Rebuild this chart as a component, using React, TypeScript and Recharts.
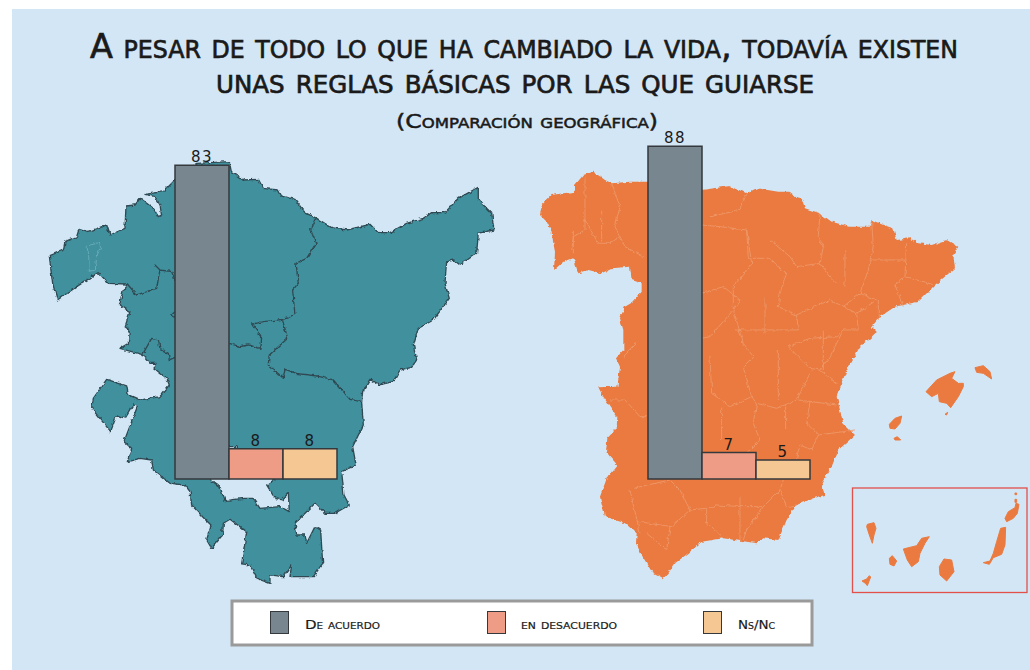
import { BarChart, Bar, Cell, LabelList, XAxis, YAxis } from 'recharts';

const categories = ['De acuerdo', 'en desacuerdo', 'Ns/Nc'];
const euskadiValues = [83, 8, 8];
const espanaValues = [88, 7, 5];
const barColors = ['#78878f', '#ee9c85', '#f5c792'];

const titleLines = [
  'A pesar de todo lo que ha cambiado la vida, todavía existen',
  'unas reglas básicas por las que guiarse',
];
const subtitle = '(Comparación geográfica)';

const BG = '#d2e6f5';
const ORANGE = '#ea7a40';
const INK = '#1a1a1a';

// Contornos de los mapas de fondo, en px del recorte (se dibujan con scale 1/3)
const euskadiOutline =
  'M598,95 604,125 640,150 685,148 700,175 745,180 755,198 795,208 825,248 860,265 905,293 950,300 1020,283 1045,308 1080,308 1130,280 1180,265 1205,248 1245,248 1285,205 1345,172 1345,210 1385,250 1392,300 1345,310 1340,370 1290,405 1272,390 1250,395 1245,460 1258,505 1210,570 1165,595 1150,645 1160,690 1145,712 1110,720 1090,755 1045,765 1020,748 998,785 995,815 1000,885 968,950 978,1005 935,1025 942,1095 958,1125 915,1150 885,1150 855,1120 820,1155 795,1180 800,1215 825,1215 830,1240 855,1190 872,1200 878,1300 850,1340 780,1340 785,1305 760,1340 720,1335 720,1360 680,1345 660,1305 635,1302 650,1205 600,1168 580,1180 578,1215 545,1255 530,1230 543,1185 522,1165 485,1125 480,1085 465,1065 420,1060 370,1020 365,990 330,985 292,995 305,955 282,935 322,830 310,825 285,865 260,855 242,905 185,835 190,805 230,748 290,768 295,795 330,810 390,800 418,765 410,745 372,715 378,700 360,700 340,675 270,655 295,640 298,600 285,590 300,545 268,525 280,480 292,462 235,460 205,428 140,470 82,510 68,460 58,378 100,360 105,335 140,320 148,295 175,305 230,285 240,315 285,295 288,228 315,225 330,205 370,235 385,260 395,255 390,225 375,200 345,193 400,185 435,150 500,100Z';
const euskadiLines = [
  'M860,265 842,300 858,340 830,385 798,400 805,460 788,480 795,555 760,568 700,575 668,582 692,620 690,655 655,645 630,650 598,640',
  'M757,568 773,625 718,675 715,705 760,745 765,718 800,730 860,738 910,750 960,808 995,815',
  'M292,462 320,495 380,475 390,420 375,405 390,420 425,425 435,450',
  'M335,678 365,625 385,630 390,655 415,670 418,690 435,682',
  'M435,545 425,555 435,562',
];
const trevinoHole =
  'M540,1048 570,1072 585,1112 640,1105 670,1105 690,1135 750,1130 778,1145 775,1090 755,1110 735,1105 710,1065 735,1048 620,950 598,950Z';
const euskadiEnclave = 'M170,348 208,338 212,350 200,380 196,420 178,424 176,375Z';

const espanaOutline =
  'M355,155 300,155 245,160 225,150 190,125 160,135 135,165 135,185 100,190 65,195 35,225 30,255 50,275 65,305 70,340 75,365 72,420 100,395 130,385 145,430 175,420 215,430 245,415 300,410 305,450 335,460 335,485 310,515 285,530 270,565 280,600 280,660 258,685 270,710 262,770 205,772 220,800 240,830 262,860 260,895 232,925 228,965 262,1005 232,1040 210,1100 225,1160 285,1180 320,1210 318,1240 335,1275 365,1325 400,1345 415,1330 435,1300 475,1270 515,1235 580,1225 680,1240 700,1225 745,1230 770,1170 800,1125 850,1105 885,1095 875,1060 905,1010 925,960 975,915 940,880 920,800 950,720 990,650 1025,620 1040,605 1025,590 1050,560 1095,530 1165,515 1215,465 1275,415 1270,375 1285,350 1250,330 1205,345 1165,340 1140,325 1100,330 1090,295 1060,285 1025,270 1020,290 960,290 905,275 870,250 825,235 815,205 795,200 775,185 745,185 680,175 650,190 600,168 515,180Z';
// Baleares, recorte con origen en (880,355)
const baleares = [
  'M138,110 170,75 210,55 225,50 215,70 235,85 250,85 250,95 235,125 212,158 200,145 178,140 175,115 155,125Z',
  'M285,38 310,32 330,50 335,72 310,55 290,52Z',
  'M28,208 45,190 65,183 60,205 45,222 30,220Z',
  'M42,250 52,245 62,255 45,255Z',
  'M195,178 203,172 200,180Z',
];
// Canarias, recorte con origen en (850,485)
const canarias = [
  'M52,118 72,113 78,130 72,150 67,175 58,150 50,125Z',
  'M36,288 50,282 58,272 62,276 52,302 46,295Z',
  'M118,220 127,212 140,228 132,243 120,238Z',
  'M160,192 200,182 215,160 238,155 225,175 210,205 205,230 185,245 172,225Z',
  'M282,222 305,225 312,260 290,288 270,270 268,245Z',
  'M452,130 467,127 465,180 455,208 430,218 418,238 400,233 420,228 430,205 440,170Z',
  'M465,100 475,80 495,68 498,55 507,58 502,85 490,100 470,110Z',
  'M495,43 500,43 500,52 495,52Z',
  'M495,24 500,24 500,29 495,29Z',
];
const espanaLines = [
  'M245,160 270,230 255,290 285,350 340,380',
  'M165,140 165,300 130,320 125,360',
  'M165,270 205,340 240,340 270,320',
  'M515,285 570,290 650,300 655,385 715,385 770,430 750,490 745,530 800,555 805,600 615,600',
  'M610,540 610,470 665,400 650,300',
  'M515,490 580,470 630,510 610,540 540,620 515,625',
  'M610,540 640,640 670,680 640,710 665,800 600,830 545,790 540,680',
  'M800,555 900,510 980,550 985,600 940,600 920,620 840,625 775,650 840,715 870,720 900,680 940,600',
  'M870,720 920,760',
  'M840,730 800,810 740,835 680,820 665,800',
  'M805,810 920,825',
  'M680,820 670,880 690,930 660,960 540,1050',
  'M840,815 830,880 865,915 975,900',
  'M865,915 845,960 810,945 800,985',
  'M870,250 865,320 880,350 870,400 910,450 920,460',
  'M1025,270 1030,350 1015,420 990,490 940,530',
  'M1130,340 1125,440 1095,465 1120,530',
  'M1020,390 1125,390',
  'M1125,440 1215,465',
  'M650,190 630,240 540,260',
  'M720,330 780,380 800,410 870,400',
  'M990,490 1040,510 980,550',
  'M300,1080 330,1210',
  'M310,1075 420,1050 450,1080 480,1140 530,1135 560,1125 630,1130 700,1130 750,1080 760,1050',
  'M530,1140 530,1180 580,1225',
  'M420,1190 410,1260 350,1210',
  'M480,1140 425,1190 325,1175',
  'M700,1130 650,1200 640,1230',
  'M750,1080 770,1130 800,1125',
  'M240,810 285,810 330,860 350,860',
  'M320,640 280,680',
  'M705,500 705,610',
  'M880,600 880,720',
  'M945,360 945,470',
  'M1045,510 1045,570',
  'M745,660 745,810',
  'M767,830 767,900',
  'M630,1100 630,1230',
  'M575,830 575,930',
  'M130,300 130,370',
  'M215,240 215,335',
];

const titleFont = '"DejaVu Sans", sans-serif';

function Maps() {
  return (
    <svg width={1030} height={670} style={{ position: 'absolute', left: 0, top: 0 }}>
      <defs>
        {/* costa irregular */}
        <filter id="rough" x="-5%" y="-5%" width="110%" height="110%">
          <feTurbulence type="fractalNoise" baseFrequency={0.22} numOctaves={2} seed={4} />
          <feDisplacementMap in="SourceGraphic" scale={4} xChannelSelector="R" yChannelSelector="G" />
        </filter>
      </defs>
      <rect x={12} y={9} width={1018} height={661} fill={BG} />
      <g
        style={{ fontFamily: titleFont, fontVariant: 'small-caps' }}
        fill={INK}
        stroke={INK}
        strokeWidth={0.7}
      >
        <text x={90} y={58} fontSize={34} textLength={868} lengthAdjust="spacingAndGlyphs">
          {titleLines[0]}
        </text>
        <text x={216} y={93} fontSize={34} textLength={598} lengthAdjust="spacingAndGlyphs">
          {titleLines[1]}
        </text>
        <text x={396} y={128} fontSize={20} strokeWidth={0.5} textLength={262} lengthAdjust="spacingAndGlyphs">
          {subtitle}
        </text>
      </g>

      <g filter="url(#rough)">
        <g transform="translate(30,130) scale(0.3333)">
          <path d={euskadiOutline} fill="#3f909e" stroke="#2f4a52" strokeWidth={4} strokeLinejoin="round" />
          {euskadiLines.map((d) => (
            <path key={d} d={d} fill="none" stroke="#2f4a52" strokeWidth={4} strokeLinejoin="round" />
          ))}
          <path d={trevinoHole} fill={BG} stroke="#2f4a52" strokeWidth={4} strokeLinejoin="round" />
          <path d={euskadiEnclave} fill="none" stroke="#7fb8c2" strokeWidth={2} />
        </g>
      </g>

      <g filter="url(#rough)">
        <g transform="translate(530,130) scale(0.3333)">
          <path d={espanaOutline} fill={ORANGE} />
          {espanaLines.map((d) => (
            <path key={d} d={d} fill="none" stroke="#ef9a6c" strokeWidth={2.5} />
          ))}
        </g>
      </g>
      <g transform="translate(880,355) scale(0.3333)" fill={ORANGE} stroke={ORANGE} strokeWidth={3} strokeLinejoin="round">
        {baleares.map((d) => (
          <path key={d} d={d} />
        ))}
      </g>
      <g transform="translate(850,485) scale(0.3333)" fill={ORANGE} stroke={ORANGE} strokeWidth={3} strokeLinejoin="round">
        {canarias.map((d) => (
          <path key={d} d={d} />
        ))}
      </g>
      <rect x={852.5} y={488} width={174.5} height={104.5} fill="none" stroke="#e2504a" strokeWidth={1.3} />
    </svg>
  );
}

function GroupChart({ values, left }: { values: number[]; left: number }) {
  const data = categories.map((name, i) => ({ name, value: values[i] }));
  return (
    <div style={{ position: 'absolute', left, top: 101 }}>
      <BarChart
        width={182}
        height={383}
        data={data}
        margin={{ top: 0, right: 10, bottom: 5, left: 10 }}
        barCategoryGap={0}
      >
        <XAxis dataKey="name" hide />
        <YAxis domain={[0, 100]} hide />
        <Bar dataKey="value" stroke="#33393d" strokeWidth={1.5} isAnimationActive={false}>
          {data.map((d, i) => (
            <Cell key={d.name} fill={barColors[i]} />
          ))}
          <LabelList
            dataKey="value"
            position="top"
            offset={3}
            fill={INK}
            fontSize={15}
            letterSpacing={1.5}
            fontFamily="'DejaVu Sans', sans-serif"
          />
        </Bar>
      </BarChart>
    </div>
  );
}

const legendSwatchX = [270, 487, 703];
const legendTextX = [305, 521, 738];
const legendTextW = [75, 96, 37];

function ChartLegend() {
  return (
    <svg width={1030} height={670} style={{ position: 'absolute', left: 0, top: 0 }}>
      <rect x={232} y={601} width={580} height={44} fill="#fff" stroke="#9a9a9a" strokeWidth={3} />
      {categories.map((c, i) => (
        <g key={c}>
          <rect
            x={legendSwatchX[i] + 0.5}
            y={611.5}
            width={18}
            height={22}
            fill={barColors[i]}
            stroke="#33393d"
            strokeWidth={1}
          />
          <text
            x={legendTextX[i]}
            y={629}
            fontSize={13}
            textLength={legendTextW[i]}
            lengthAdjust="spacingAndGlyphs"
            fill={INK}
            stroke={INK}
            strokeWidth={0.2}
            style={{ fontFamily: titleFont, fontVariant: 'small-caps' }}
          >
            {c}
          </text>
        </g>
      ))}
    </svg>
  );
}

export default function App() {
  return (
    <div style={{ position: 'absolute', left: 0, top: 0, width: 1030, height: 670, overflow: 'hidden' }}>
      <Maps />
      <ChartLegend />
      <GroupChart values={euskadiValues} left={165} />
      <GroupChart values={espanaValues} left={638} />
    </div>
  );
}
